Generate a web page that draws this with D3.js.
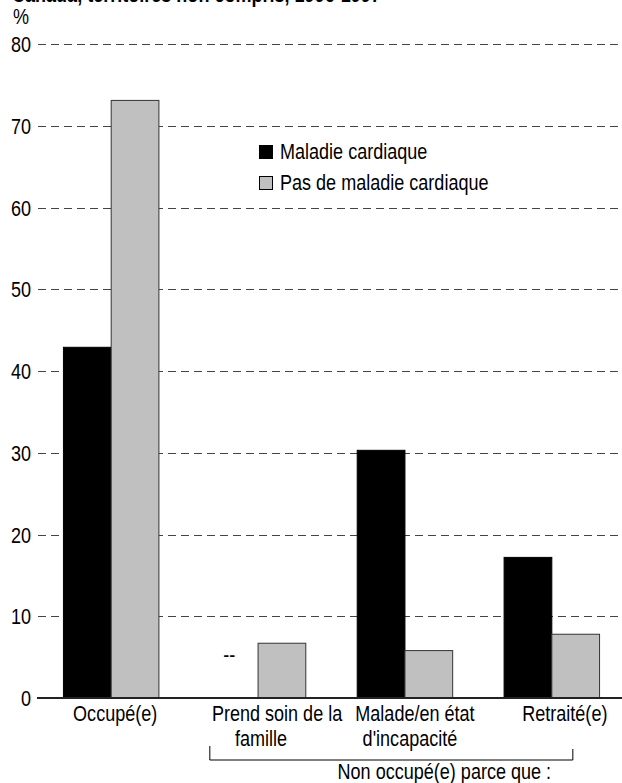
<!DOCTYPE html>
<html>
<head>
<meta charset="utf-8">
<script src="https://cdn.jsdelivr.net/npm/d3@7/dist/d3.min.js"></script>
<style>
  html, body { margin: 0; padding: 0; background: #fff; }
  svg { display: block; }
  text { font-family: 'Liberation Sans Narrow', 'Arial Narrow', 'Liberation Sans', Arial, sans-serif; fill: #000; }
</style>
</head>
<body>
<svg id="chart" width="622" height="783"></svg>
<script>
// ---- data ----
const categories = ["Occupé(e)", "Prend soin de la famille", "Malade/en état d'incapacité", "Retraité(e)"];
const categoryLabelLines = [["Occupé(e)"], ["Prend soin de la", "famille"], ["Malade/en état", "d'incapacité"], ["Retraité(e)"]];
const seriesNames = ["Maladie cardiaque", "Pas de maladie cardiaque"];
const heartDisease = [42.9, null, 30.3, 17.2];     // null = "--" (too unreliable to publish)
const noHeartDisease = [73.1, 6.7, 5.8, 7.8];
const yTicks = [0, 10, 20, 30, 40, 50, 60, 70, 80];
const title = "Canada, territoires non compris, 1996-1997";
const yUnit = "%";
const groupLabel = "Non occupé(e) parce que :";
const missingMark = "--";

// ---- layout / style ----
const W = 622, H = 783;
const colors = ["#000000", "#c0c0c0"];
const labelDx = [[4], [19, 3], [10, 5], [13]];
const fontSize = 22;
const condense = 0.82;   // emulate a narrow face

const svg = d3.select("#chart");

function ntext(parent, x, y, str, anchor, extra) {
  const t = parent.append("g").attr("transform", `translate(${x},${y}) scale(${condense},1)`)
    .append("text").attr("x", 0).attr("y", 0)
    .attr("text-anchor", anchor || "start").attr("font-size", fontSize).text(str);
  if (extra) extra(t);
  return t;
}

const x = d3.scaleBand().domain(categories).range([37, 626]).paddingInner(0.35).paddingOuter(0.18);
const xs = d3.scaleBand().domain(seriesNames).range([0, x.bandwidth()]);
const y = d3.scaleLinear().domain([0, 80]).range([698, 44]);

// title (cut off at top)
ntext(svg, 12, 2, title, "start", t => t.attr("font-weight", "bold"));

// unit
ntext(svg, 13, 24, yUnit, "start");

// gridlines
svg.append("g").selectAll("line").data(yTicks.filter(d => d > 0)).join("line")
  .attr("x1", 38).attr("x2", W)
  .attr("y1", d => Math.round(y(d)) + 0.5).attr("y2", d => Math.round(y(d)) + 0.5)
  .attr("stroke", "#444").attr("stroke-width", 1).attr("stroke-dasharray", "8,5");

// y tick labels
const tickG = svg.append("g");
yTicks.forEach(d => ntext(tickG, 31, y(d) + 8, d, "end"));

// bars
const rows = categories.map((c, i) => ({ cat: c, vals: [heartDisease[i], noHeartDisease[i]] }));
const g = svg.append("g");
rows.forEach((r, i) => {
  r.vals.forEach((v, j) => {
    const bx = x(r.cat) + xs(seriesNames[j]);
    if (v == null) {
      ntext(g, bx + xs.bandwidth() / 2 - 5, 662, missingMark, "middle");
      return;
    }
    g.append("rect")
      .attr("x", bx).attr("width", xs.bandwidth())
      .attr("y", y(v)).attr("height", y(0) - y(v))
      .attr("fill", colors[j])
      .attr("stroke", j === 0 ? "#000" : "#333").attr("stroke-width", 1);
  });
});

// baseline axis
svg.append("line").attr("x1", 37).attr("x2", W).attr("y1", y(0)).attr("y2", y(0))
  .attr("stroke", "#222").attr("stroke-width", 2);

// category labels
categoryLabelLines.forEach((lines, i) => {
  const cx = x(categories[i]) + x.bandwidth() / 2;
  lines.forEach((t, k) => ntext(svg, cx + labelDx[i][k], 721 + k * 25, t, "middle"));
});

// bracket for "non occupé" group
const bx0 = x(categories[1]) - 0.5;
const bx1 = x(categories[3]) + x.bandwidth() * 0.72;
svg.append("path")
  .attr("d", `M${bx0},746 V760 H${bx1} M${bx1},749 V760`)
  .attr("fill", "none").attr("stroke", "#000").attr("stroke-width", 1);
ntext(svg, (bx0 + bx1) / 2 + 53, 779, groupLabel, "middle");

// legend
const legend = svg.append("g");
seriesNames.forEach((s, j) => {
  legend.append("rect").attr("x", 259.5).attr("y", 145.5 + j * 31).attr("width", 13).attr("height", 13)
    .attr("fill", colors[j]).attr("stroke", "#000").attr("stroke-width", 1);
  ntext(legend, 280, 159 + j * 31, s, "start");
});
</script>
</body>
</html>
